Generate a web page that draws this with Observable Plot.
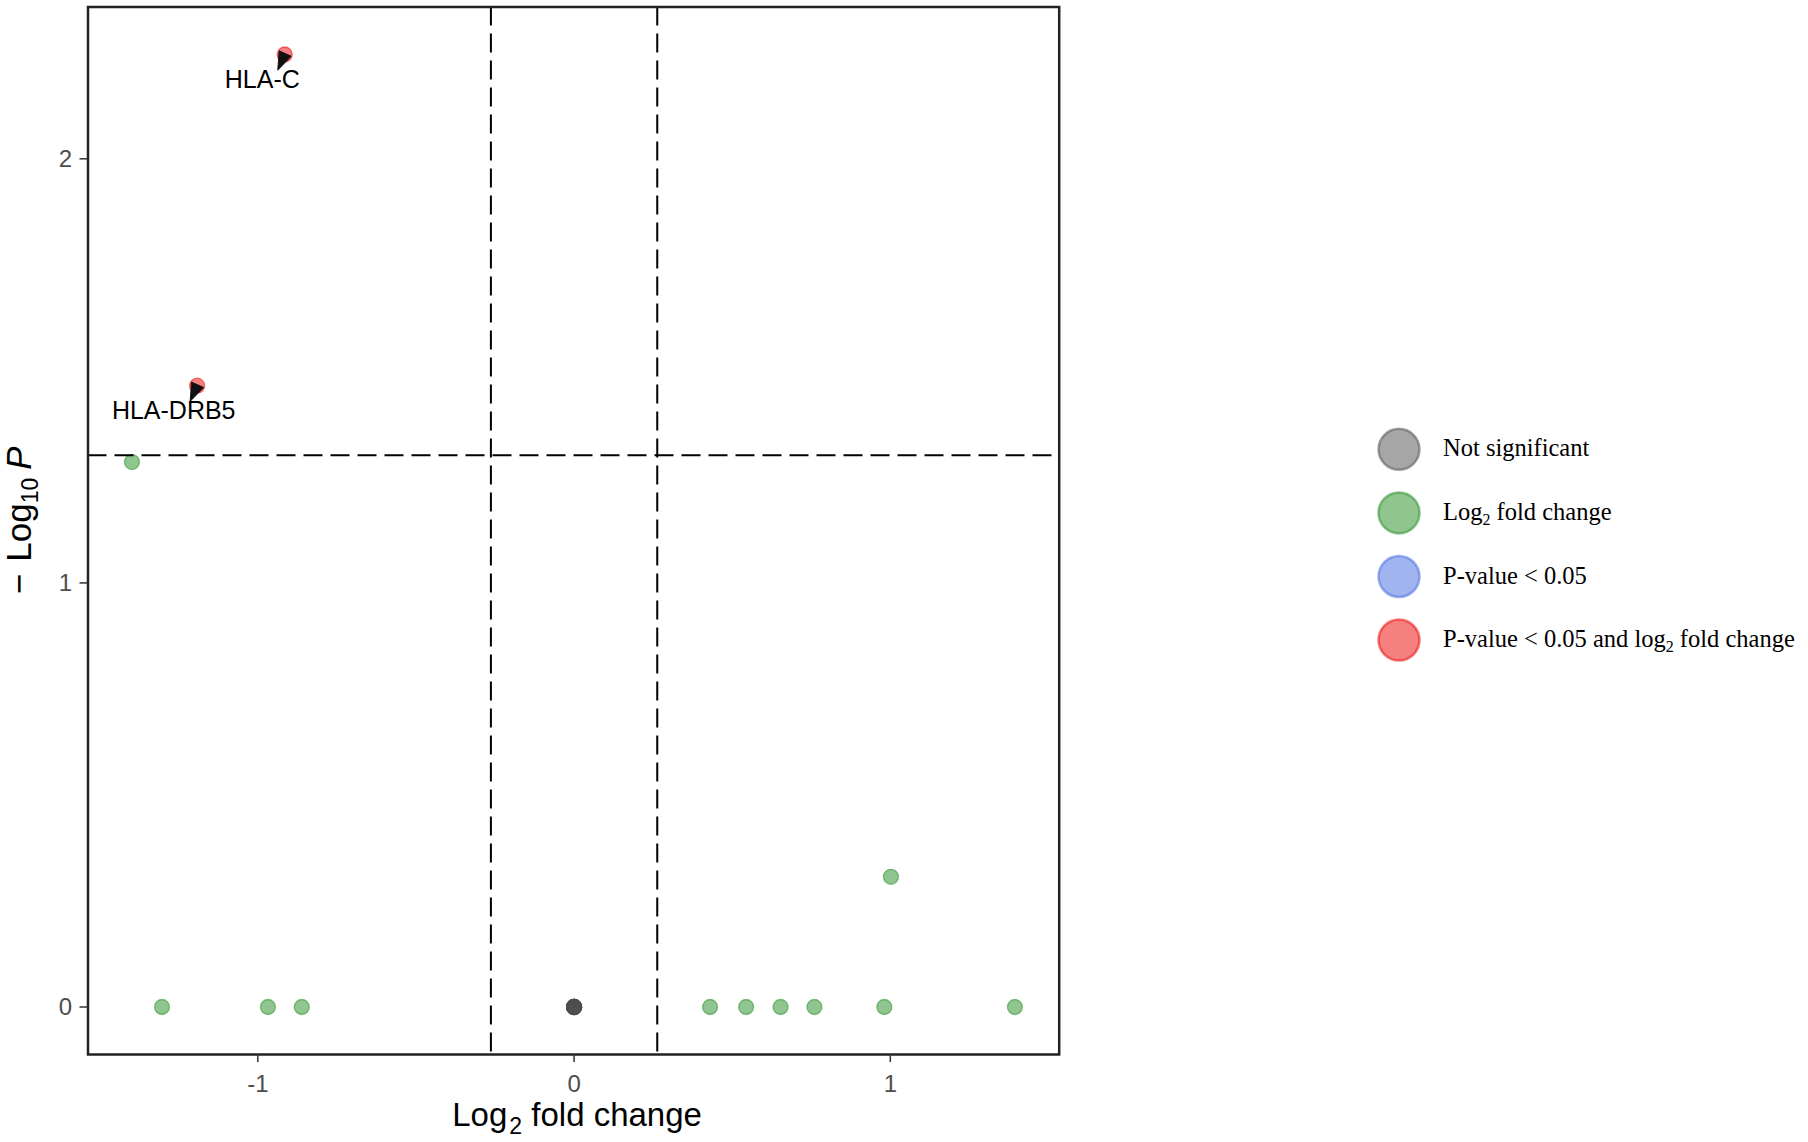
<!DOCTYPE html>
<html>
<head>
<meta charset="utf-8">
<script src="https://cdn.jsdelivr.net/npm/d3@7"></script>
<script src="https://cdn.jsdelivr.net/npm/@observablehq/plot@0.6"></script>
<style>
  html, body { margin: 0; padding: 0; background: #fff; }
  #wrap { position: relative; width: 1808px; height: 1142px; overflow: hidden; }
  #chart { position: absolute; left: 0; top: 0; }
  #legend { position: absolute; left: 0; top: 0; }
</style>
</head>
<body>
<div id="wrap"><div id="chart"></div><svg id="legend" width="1808" height="1142"></svg></div>
<script>
// ---- data ----
const genes = ["HLA-C", "HLA-DRB5", "g3", "g4", "g5", "g6", "g7", "g8", "g9", "g10", "g11", "g12", "g13",
               "ns1", "ns2", "ns3", "ns4", "ns5", "ns6", "ns7", "ns8"];
const log2FC = [-0.915, -1.192, -1.398, 1.002, -1.303, -0.968, -0.861, 0.430, 0.544, 0.653, 0.760, 0.981, 1.394,
                0, 0, 0, 0, 0, 0, 0, 0];
const negLog10P = [2.246, 1.465, 1.285, 0.307, 0, 0, 0, 0, 0, 0, 0, 0, 0,
                   0, 0, 0, 0, 0, 0, 0, 0];
const category = ["both", "both", "fc", "fc", "fc", "fc", "fc", "fc", "fc", "fc", "fc", "fc", "fc",
                  "ns", "ns", "ns", "ns", "ns", "ns", "ns", "ns"];

const categoryKeys = ["ns", "fc", "p", "both"];
const categoryColors = ["#4d4d4d", "#228b22", "#4169e1", "#ee0000"];

const labelGenes = ["HLA-C", "HLA-DRB5"];
const labelX = [-0.986, -1.266];
const labelY = [2.187, 1.406];

const fcCutoffs = [-0.263, 0.263];
const pCutoff = 1.30103;

const xTicks = [-1, 0, 1];
const yTicks = [0, 1, 2];

// ---- build tables ----
const points = genes.map((g, i) => ({gene: g, x: log2FC[i], y: negLog10P[i], cat: category[i]}));
const labelled = points.filter(d => labelGenes.includes(d.gene));
const labels = labelGenes.map((g, i) => ({gene: g, x: labelX[i], y: labelY[i]}));

// filled arrowhead shape for the label connectors
const arrowHead = {
  draw(context, l) {
    context.moveTo(-6.5, 1);
    context.lineTo(6.5, 1);
    context.lineTo(0, -l);
    context.closePath();
  }
};

const plot = Plot.plot({
  width: 1100,
  height: 1142,
  marginLeft: 87.5,
  marginRight: 41.3,
  marginTop: 6.5,
  marginBottom: 88,
  style: {fontFamily: "'Liberation Sans', Arial, Helvetica, sans-serif", fontSize: "24px", background: "transparent"},
  x: {domain: [-1.537, 1.534]},
  y: {domain: [-0.112, 2.358]},
  color: {domain: categoryKeys, range: categoryColors},
  marks: [
    Plot.dot(points, {x: "x", y: "y", r: 7.5, fill: "cat", fillOpacity: 0.5, stroke: "cat", strokeOpacity: 0.5, strokeWidth: 1.3}),
    Plot.ruleX(fcCutoffs, {stroke: "black", strokeWidth: 2, strokeDasharray: "19,8"}),
    Plot.ruleY([pCutoff], {stroke: "black", strokeWidth: 2, strokeDasharray: "19,8"}),
    Plot.vector(labelled, {x: "x", y: "y", length: 17, rotate: 204, anchor: "start", shape: arrowHead,
                           fill: "#111", stroke: "#111", strokeWidth: 1}),
    Plot.text(labels, {x: "x", y: "y", text: "gene", fontSize: 25, fill: "black"}),
    Plot.frame({stroke: "#222", strokeWidth: 2.5}),
    Plot.axisX({ticks: xTicks, tickSize: 8, tickPadding: 12, fontSize: 24, stroke: "#333", strokeWidth: 1.5,
                fill: "#4d4d4d", tickFormat: d => String(d), label: null}),
    Plot.axisY({ticks: yTicks, tickSize: 8, tickPadding: 8, fontSize: 24, stroke: "#333", strokeWidth: 1.5,
                fill: "#4d4d4d", tickFormat: d => String(d), label: null})
  ]
});
document.getElementById("chart").appendChild(plot);

const svg = d3.select(plot);
svg.selectAll('g[aria-label$="tick label"]').attr("font-size", 24).attr("fill", "#4d4d4d");
svg.selectAll('g[aria-label$="tick label"] text').style("font-size", "24px");

// ---- axis titles with subscripts ----
const xs = plot.scale("x"), ys = plot.scale("y");
const xMid = (xs.range[0] + xs.range[1]) / 2 + 4;
const yMid = (ys.range[0] + ys.range[1]) / 2 - 10;

const xt = svg.append("text")
  .attr("x", xMid).attr("y", 1126)
  .attr("text-anchor", "middle")
  .attr("font-size", 33).attr("fill", "black")
  .attr("font-family", "'Liberation Sans', Arial, sans-serif");
xt.append("tspan").text("Log");
xt.append("tspan").attr("dy", 8).attr("font-size", 23).attr("dx", 2).text("2");
xt.append("tspan").attr("dy", -8).text(" fold change");

const yt = svg.append("text")
  .attr("transform", `translate(31,${yMid}) rotate(-90)`)
  .attr("text-anchor", "middle")
  .attr("font-size", 35).attr("fill", "black")
  .attr("font-family", "'Liberation Sans', Arial, sans-serif");
yt.append("tspan").text("\u2212");
yt.append("tspan").attr("dx", 12).text("Log");
yt.append("tspan").attr("dy", 7).attr("font-size", 23).text("10");
yt.append("tspan").attr("dy", -7).attr("dx", 8).attr("font-style", "italic").text("P");

// ---- legend ----
const legendLabels = [
  [["Not significant", false]],
  [["Log", false], ["2", true], [" fold change", false]],
  [["P-value < 0.05", false]],
  [["P-value < 0.05 and log", false], ["2", true], [" fold change", false]]
];
const lg = d3.select("#legend");
const legendX = 1399, legendY0 = 449.3, legendStep = 63.6;
categoryKeys.forEach((k, i) => {
  const cy = legendY0 + i * legendStep;
  lg.append("circle").attr("cx", legendX).attr("cy", cy).attr("r", 20.5)
    .attr("fill", categoryColors[i]).attr("fill-opacity", 0.5)
    .attr("stroke", categoryColors[i]).attr("stroke-opacity", 0.5).attr("stroke-width", 2.5);
  const t = lg.append("text").attr("x", 1443).attr("y", cy + 7)
    .attr("font-family", "'Liberation Serif', 'Times New Roman', serif")
    .attr("font-size", 24.5).attr("fill", "black");
  let shifted = false;
  legendLabels[i].forEach(([s, sub]) => {
    if (sub) { t.append("tspan").attr("dy", 5).attr("font-size", 16).text(s); shifted = true; }
    else {
      const ts = t.append("tspan").text(s);
      if (shifted) { ts.attr("dy", -5); shifted = false; }
    }
  });
});
</script>
</body>
</html>
